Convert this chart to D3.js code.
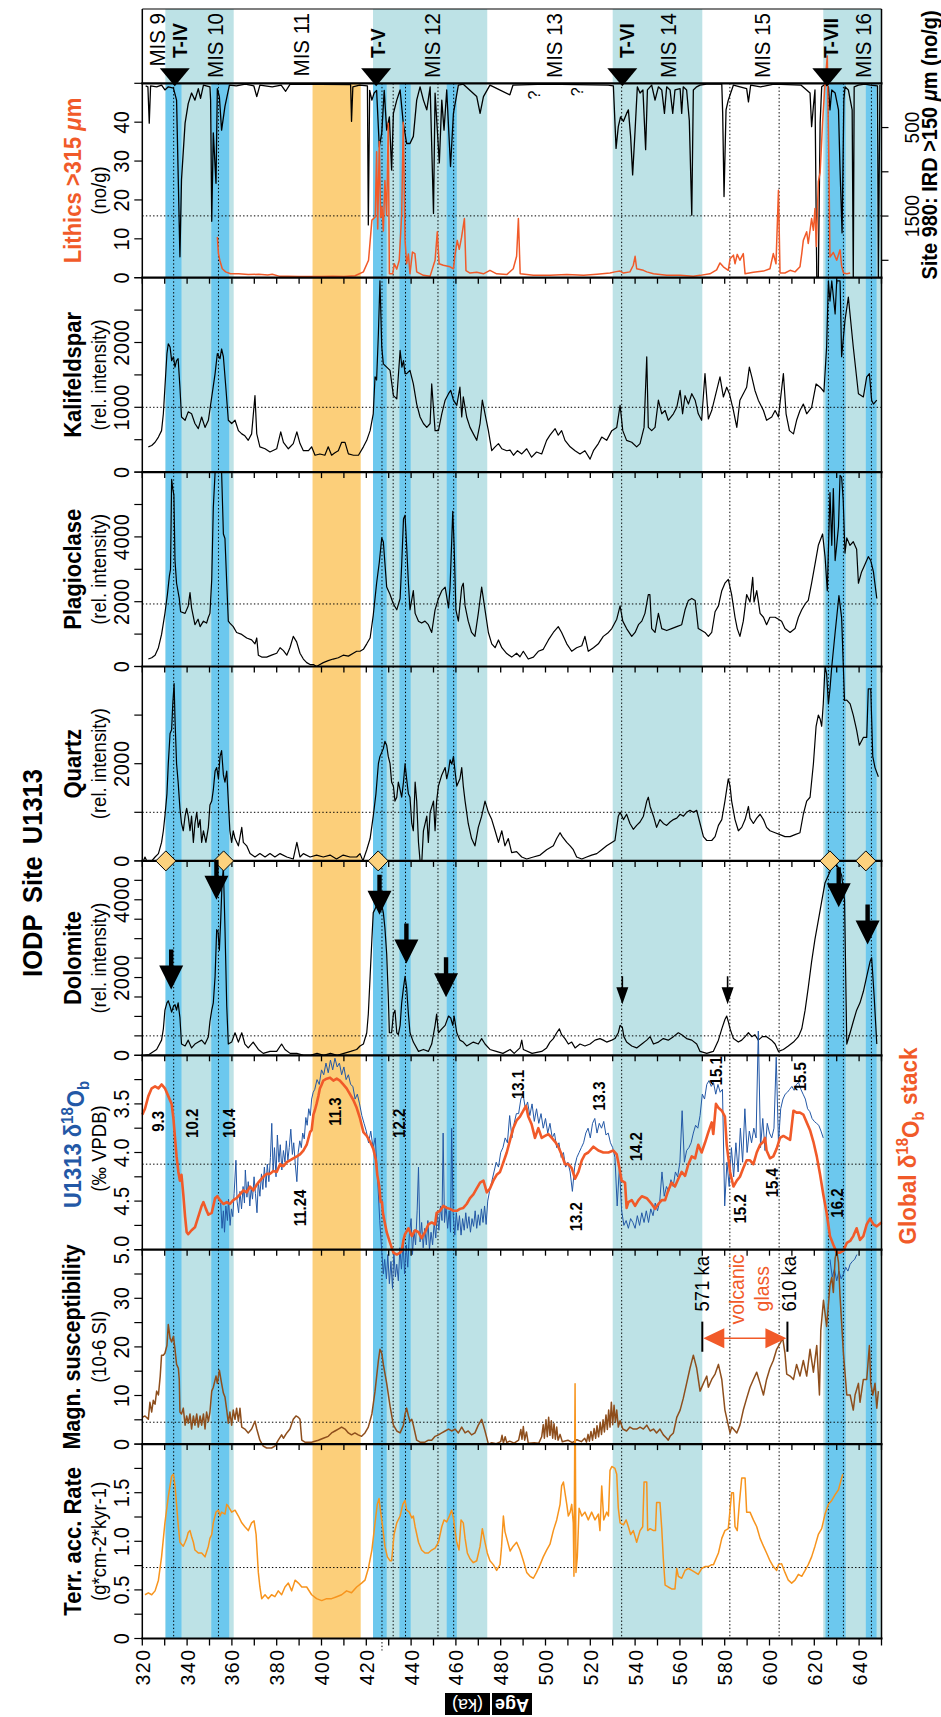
<!DOCTYPE html>
<html>
<head>
<meta charset="utf-8">
<script src="https://cdn.jsdelivr.net/npm/d3@7"></script>
<style>
  body { margin: 0; background: #fff; }
  text { font-family: "Liberation Sans", Arial, Helvetica, sans-serif; }
</style>
</head>
<body>
<svg id="chart" width="941" height="1717"></svg>
<script>
// ---------------- data ----------------
var ageTicks = d3.range(320, 651, 10);
var ageLabels = d3.range(320, 641, 20);

var lightBands = [[330.3, 360.8], [423, 474], [530, 570], [624, 650]];
var darkBands = [[330.4, 337.5], [350.8, 358.8], [423, 429.1], [434.8, 439.8], [455.9, 460.4], [625, 634], [643, 647.8]];
var orangeBands = [[396, 417.5]];
var dottedAges = [334, 354, 427, 432, 437.5, 452, 459, 534, 582.3, 604.3, 626.3, 633, 645.5];

var misLabels = [["MIS 9", 326.4], ["MIS 10", 352.5], ["MIS 11", 391], ["MIS 12", 449.5], ["MIS 13", 503.8],
                 ["MIS 14", 554.8], ["MIS 15", 596.5], ["MIS 16", 641.6]];
var termLabels = [["T-IV", 336.7], ["T-V", 425], ["T-VI", 536], ["T-VII", 627.4]];
var termMarks = [334.5, 424.4, 534.3, 625.8];

var diamonds = [330.5, 356.3, 425.3, 627, 643];
// [age, dolomite value at arrow tip, big?]
var dolArrows = [[332.9, 1690, 1], [353.1, 4000, 1], [425.9, 3615, 1], [437.9, 2360, 1], [455.6, 1490, 1],
                 [534.3, 1310, 0], [581.3, 1310, 0], [630.9, 3810, 1], [643.8, 2850, 1]];

var isoLabels = [["9.3", 327.2, 3.68], ["10.2", 342.1, 3.70], ["10.4", 358.7, 3.70], ["11.24", 390.4, 4.57],
                 ["11.3", 406.3, 3.58], ["12.2", 434.8, 3.70], ["13.1", 487.9, 3.30], ["13.2", 513.9, 4.66],
                 ["13.3", 523.9, 3.42], ["14.2", 540.4, 3.94], ["15.1", 576.1, 3.16], ["15.2", 586.8, 4.58],
                 ["15.4", 601, 4.31], ["15.5", 613.6, 3.22], ["16.2", 630.3, 4.52]];

var questionMarks = [[494.6, 47], [513.9, 47.8]];
var glassBars = [570, 608];
var glassRange = [19, 25.2];
var glassArrowLevel = 21.8;

var lithics = [[353.5,10.5],[354,6.2],[354.6,4.5],[355.7,2.3],[357.2,1.5],[359.4,1.0],[363,1.0],[367.3,0.8],[372,0.9],[376,0.7],[378,0.9],[381,0.4],[385,0.4],[390,0.3],[395,0.3],[400,0.3],[405,0.4],[410,0.3],[415,0.5],[418.7,1.5],[421,4.5],[422.5,14.8],[424,15.6],[424.6,32.4],[425.1,12.5],[425.8,35],[426.4,15.5],[427,18.2],[427.6,12],[428.3,25],[429.1,16],[429.8,39.7],[430.3,1.0],[431.8,1.0],[432.5,3.6],[433.6,2.2],[434.7,4.5],[435.8,16.3],[436.5,40],[437.3,9.6],[438,3.6],[438.8,6.1],[439.5,1.0],[440.6,6.6],[441.7,6.2],[442.5,1.5],[445.5,0.6],[448.5,0.4],[450.7,4.5],[451.7,11.8],[452.5,3.6],[454.4,3.2],[457.4,2.8],[458.9,2.3],[459.6,5.8],[460.6,9.6],[461.5,7.3],[462.5,10.3],[463.8,15.2],[464.5,1.8],[466.3,1.2],[469.3,1.4],[472.3,1.0],[475.2,1.9],[478.2,1.0],[482.7,0.8],[485.6,2.3],[487.1,5.5],[487.9,15.2],[488.7,1.0],[494.6,0.6],[502,0.6],[509.5,0.8],[517,0.6],[523,0.9],[528.8,1.2],[531,1.5],[533.3,1.7],[534.8,1.2],[537.7,1.5],[539.2,3.2],[540,5.5],[540.7,2.3],[543.7,1.9],[545.2,1.5],[548.2,1.0],[554.1,0.6],[560.1,0.6],[566,0.4],[569,0.6],[573.4,1.0],[576.4,2.0],[577.9,3.8],[579.4,2.8],[581.6,1.9],[582.4,4.9],[583.9,5.8],[584.6,3.6],[585.6,6.0],[586.8,4.5],[588.3,6.2],[589.1,1.0],[592.8,1.4],[597.3,1.7],[600.2,2.3],[601.7,6.2],[602.9,3.6],[604,22.5],[604.7,1.2],[606.9,1.2],[609.2,1.9],[611.4,1.5],[613.6,2.8],[614.4,6.2],[615.1,9.6],[616.6,11.8],[617.3,8.8],[618.8,15.2],[619.6,12.2],[620.3,17.8],[620.9,8],[621.8,24.7],[622.6,27],[623.7,40],[624.8,50],[625.8,57],[626.5,30],[627,5.3],[628.5,6.5],[630,4.5],[631.5,7.2],[632.2,3.0],[633,1.2],[634.5,1.0],[636,1.2]];

var ird980 = [[321.5,30],[322.5,40],[323.1,450],[323.7,30],[326.4,40],[328.6,20],[330.1,75],[331.6,40],[333.9,55],[335.3,190],[336.8,1960],[337.5,1090],[339.1,450],[340.5,230],[342,110],[343.5,190],[345,60],[346,170],[347.3,20],[350.2,40],[350.5,190],[351,1560],[351.7,560],[352.9,1130],[353.5,60],[354.4,150],[355.4,530],[356.9,260],[358.9,20],[362,30],[366,10],[369.8,30],[371.1,150],[372.5,20],[378,40],[382,20],[384,90],[386,10],[413,15],[413.4,430],[414,40],[417,20],[420.5,30],[420.9,1600],[421.5,80],[422.5,190],[423.5,110],[424.6,80],[425.8,720],[426.9,560],[428,80],[429.1,530],[430.3,380],[431.3,980],[432.1,340],[433.6,190],[435.1,75],[436.5,450],[438,680],[439.5,680],[441,600],[442.5,190],[444,40],[445.5,190],[447,300],[448.5,40],[450,1470],[450.7,110],[452.6,900],[453.7,190],[454.7,530],[455.9,75],[457.6,940],[458.9,340],[461.1,20],[463.3,10],[469.3,150],[470.8,340],[472.3,150],[475.2,20],[484.1,130],[485.5,20],[500,10],[528,20],[530.3,30],[531.5,735],[532.5,490],[533.5,380],[534.8,430],[536.2,340],[537,300],[538,600],[538.9,1035],[540,530],[541,40],[542.2,110],[543.5,75],[544.7,750],[545.5,75],[547.4,20],[548.9,190],[550.4,40],[551.9,75],[553.1,340],[554.1,40],[555.6,75],[556.8,340],[557.8,75],[560.1,60],[560.8,340],[561.5,40],[563,75],[564.2,420],[565.3,1490],[566,75],[567.5,40],[569,20],[572,10],[578.7,10],[579.1,340],[579.7,1280],[580.6,300],[581.6,190],[583.9,20],[589.8,60],[590.6,210],[591.6,20],[596,40],[602,10],[614,20],[618.1,110],[618.8,490],[619.6,260],[620.3,75],[621.1,2190],[621.8,2190],[622.6,450],[623.3,40],[624.8,10],[626.3,40],[627,300],[627.8,75],[629.3,110],[630.8,300],[631.5,980],[632.4,1690],[633.2,190],[633.7,40],[635.2,75],[636.9,300],[637.4,2190],[637.8,40],[639.7,20],[642.6,10],[645,20],[648.2,30],[648.6,2190],[649.3,20]];

var kalifeldspar = [[322.7,390],[324.2,410],[325.7,460],[327.2,540],[328.6,640],[329.4,900],[330.1,1310],[331,1830],[331.6,1980],[332.4,1930],[333.1,1720],[333.9,1780],[334.6,1620],[335.3,1720],[336,1750],[336.8,1310],[337.5,850],[339.1,800],[340.5,930],[342,900],[343.5,750],[345,670],[346.5,850],[348,690],[349.5,800],[351,1160],[352.5,1520],[353.5,1830],[354.7,1750],[355.4,1900],[356.2,1780],[357.4,1260],[358.4,800],[359.9,750],[361.4,800],[362.9,640],[364.4,590],[365.8,560],[367.3,490],[368.8,590],[370.3,1180],[371.1,590],[372.5,390],[374.8,360],[377,310],[380,360],[381.8,620],[383,460],[385.2,360],[387.4,440],[389,620],[390.4,440],[391.9,330],[394.2,330],[395.6,390],[397.1,260],[399.3,280],[401.5,260],[403,390],[404.5,260],[406,300],[407.5,330],[409,460],[410.5,460],[412,280],[414.3,260],[416.5,260],[418.7,390],[420.2,490],[421.7,640],[423.1,900],[423.9,1470],[424.6,1420],[425.4,2140],[426.1,2950],[426.9,1930],[427.6,1670],[429.1,1620],[430.6,1570],[432.1,1180],[433.6,1130],[435.1,1880],[435.9,1620],[436.6,1720],[437.3,1520],[438,1520],[439.5,1570],[441,1360],[442.5,1050],[444,850],[445.5,750],[447,690],[448.5,750],[449.2,1360],[450.7,640],[452.2,640],[453.7,900],[455.2,1110],[456.7,1210],[457.7,1260],[458.9,1110],[460.4,1030],[461.8,1310],[462.6,850],[463.3,1160],[464.8,850],[466.3,690],[467.8,590],[469.3,490],[470.8,750],[471.8,1110],[473,900],[474.5,640],[476,330],[477.5,390],[479,440],[480.5,360],[482.7,330],[484.2,340],[485.7,260],[487.5,330],[489.4,280],[491.6,360],[493.8,230],[496,310],[498.3,280],[500.5,490],[502,570],[504.3,670],[505.7,570],[507.2,640],[508.7,490],[511,390],[513.2,330],[515.4,280],[517.6,330],[519.9,200],[521.4,330],[523.6,440],[525.1,540],[527.3,490],[529.6,640],[531.8,690],[533.3,1030],[534.5,640],[536.2,490],[538.5,460],[540.7,390],[542.2,440],[544,690],[545.2,1780],[545.9,690],[547.4,640],[548.9,690],[550.4,1110],[551.9,900],[553.4,950],[554.8,800],[557.1,900],[558.6,1000],[560.1,1260],[561.2,900],[562.3,1180],[563.8,1050],[565.3,1210],[566.8,1110],[568.2,900],[569.7,800],[571.2,1520],[572.7,820],[574.2,950],[575.7,1160],[577.9,1470],[579.4,1160],[580.9,1310],[582.1,1210],[583.9,950],[585.4,690],[586.8,1110],[589.8,1310],[591,1620],[592.1,1470],[593.5,1260],[595,1110],[597.3,950],[598.7,800],[601,850],[602.5,950],[604,850],[606.2,1520],[607.4,900],[608.9,640],[610.7,590],[612.1,800],[613.6,950],[615.1,1050],[616.6,900],[618.8,1000],[620.8,1360],[622.6,1310],[624.3,1240],[625.5,1930],[626.3,2950],[627,2640],[627.8,2950],[629.3,2440],[630,2950],[631.5,2950],[632.2,1780],[633.7,2340],[635.2,2700],[637.4,1930],[639.7,1210],[641.9,1160],[643.4,1470],[644.6,1520],[645.6,1110],[646.4,1050],[647.9,1110]];

var plagioclase = [[322.7,230],[324.2,270],[325.7,350],[327.2,580],[328.6,990],[330.1,1640],[331.2,2220],[332.1,2800],[332.6,3000],[333.1,5780],[333.6,5490],[334.1,5300],[334.6,3270],[335.3,2570],[336.5,2100],[337.1,1690],[339.1,1640],[340.5,1870],[341.3,2280],[342,1810],[343.5,1290],[344.9,1460],[345.8,1230],[347.3,1400],[348.7,1340],[349.5,1520],[350.2,1640],[351,2690],[351.7,4910],[352.5,6000],[355.4,6000],[356.2,4090],[356.9,3950],[357.7,2570],[358.4,1400],[359.1,1340],[360.6,1230],[362.1,1050],[364.4,990],[366.6,880],[368.8,820],[370.3,700],[371.1,880],[371.8,350],[373.3,290],[375.5,290],[377.7,350],[380,410],[381.5,580],[383,490],[384.5,350],[385.9,580],[387.4,930],[388.9,760],[390.4,410],[391.9,230],[393.4,120],[394.9,60],[396.4,60],[397.8,0],[399.3,60],[400.8,120],[403,180],[405.2,230],[407.5,270],[409.7,350],[412,320],[414.2,410],[415.7,470],[417.2,470],[418.7,530],[420.2,700],[421.7,880],[423.1,1580],[424.6,2570],[425.8,3210],[426.9,3970],[427.3,3900],[427.6,3850],[429.1,2450],[430.6,2220],[432.1,1930],[433.6,1750],[435.1,2100],[435.8,3150],[436.6,4550],[437.3,4670],[438,3740],[438.8,2570],[439.5,1750],[441,2340],[441.8,1640],[443.3,1400],[444.7,1340],[446.2,1400],[447.7,1290],[449.2,1050],[450.7,1750],[452.2,2100],[453.7,2340],[455.2,2450],[456.7,1810],[457.4,2450],[458.6,4790],[459.2,3740],[460,1750],[461.1,1400],[462.6,2450],[463.3,2570],[464.1,1870],[465.5,1400],[467,1050],[468.5,930],[470,1640],[471.5,2450],[473,1750],[474.5,1050],[476,700],[477.5,580],[479,820],[480.5,580],[482.7,400],[484.9,290],[487.1,410],[488.6,300],[490.1,470],[492.3,230],[494.6,290],[496.8,470],[499,530],[501.3,820],[503.5,1050],[505.7,1230],[507.2,1050],[509.5,700],[511.7,470],[513.9,580],[516.2,640],[517.6,930],[519.1,470],[521.4,580],[523.6,700],[525.8,930],[528.1,1050],[529.6,1170],[531.8,1460],[533.3,1870],[534.5,1400],[536.2,1170],[538.5,930],[540,1050],[541.5,1290],[543,1400],[544.4,1640],[545.9,2220],[546.6,2220],[547.4,1170],[548.9,1050],[550.4,1640],[551.9,1170],[554.1,1110],[556.3,1170],[558.6,1230],[560.8,1290],[562.3,1750],[563.8,2040],[565.3,2100],[566.8,2040],[568.2,1170],[569.7,1110],[571.2,1050],[572.7,930],[574.2,1050],[575.7,1690],[577.2,1870],[578.7,2340],[580.1,2570],[581.6,2690],[583.1,2220],[584.6,1520],[585.6,1170],[586.8,930],[588.3,1400],[589.8,2220],[591.3,1990],[592.5,2750],[593.1,1990],[594.3,2340],[595.8,1640],[597.3,1520],[598.7,1290],[600.2,1520],[602.5,1520],[604,1460],[605.4,1400],[606.9,1170],[609.2,1050],[611.4,1170],[612.9,1520],[614.4,1750],[615.9,1930],[617.3,2040],[618.8,2570],[620.3,3150],[621.8,3740],[623.7,4090],[624.8,3390],[625.8,2340],[627,5370],[627.8,3740],[628.5,5490],[629.3,3270],[630,3740],[630.8,4320],[631.5,5900],[632.2,5840],[632.9,5140],[633.7,3500],[634.5,3970],[635.9,3740],[637.4,3850],[638.9,3620],[639.7,2570],[641.1,2920],[642.6,3150],[644.1,3390],[645.2,3270],[646.4,2920],[647.9,2100]];

var quartz = [[320.5,0],[321.2,80],[322,0],[324.2,0],[325.7,80],[327.2,150],[328.6,380],[329.4,620],[330.1,920],[331,1380],[331.6,2000],[332.4,2620],[333.1,2700],[333.6,3230],[334.2,3650],[334.6,2920],[335.3,2000],[336,1620],[336.8,1080],[337.5,770],[338.3,620],[339.1,920],[339.8,1080],[340.5,920],[341.3,620],[342,920],[342.8,380],[343.5,770],[344.3,1000],[345,690],[345.8,850],[346.5,380],[347.3,620],[348.4,380],[349.5,690],[350.2,1150],[351,1230],[351.7,1460],[352.5,1850],[353.2,1920],[354,1690],[354.7,2150],[355.4,2270],[356.2,1770],[356.9,1620],[357.7,1850],[358.4,1230],[359.1,620],[359.9,380],[360.6,620],[361.4,460],[362.9,310],[364.4,690],[365.1,380],[366.6,310],[368.1,150],[370.3,80],[372.5,150],[374.8,80],[377,150],[379.2,80],[381.5,150],[384.5,80],[387.4,40],[389,380],[390.4,80],[391.9,150],[394.9,80],[397.8,120],[400.8,80],[403.8,120],[406.7,40],[409.7,120],[412.7,80],[415.7,80],[417.2,150],[418.5,0],[420.2,230],[421.7,460],[423.1,920],[424.3,1380],[425.4,2000],[426.1,2150],[427.6,2310],[428.3,2460],[429.1,2380],[429.8,2150],[430.6,2000],[431.3,1620],[432.1,1540],[432.8,1230],[433.6,1310],[434.3,1620],[435.1,1460],[435.8,1310],[436.6,1620],[437.3,2000],[438,1690],[438.8,1380],[439.5,1310],[440.3,770],[441,620],[441.8,1620],[442.5,1230],[443.3,380],[444,0],[444.8,0],[445.5,620],[447,920],[447.7,380],[448.5,1000],[450,1230],[450.7,620],[451.4,1230],[452.2,1540],[453.7,1770],[455.2,1920],[455.9,1690],[456.7,1850],[457.4,2080],[458.2,1990],[458.9,2150],[459.6,1850],[460.4,1540],[461.8,1690],[462.6,1920],[463.3,1540],[464.1,1230],[465.5,770],[467,460],[468.5,310],[470,690],[471.5,920],[473,1230],[474.5,1000],[476,850],[477.5,620],[479,380],[480.5,620],[481.9,310],[483.4,460],[484.9,170],[487.1,190],[489.4,80],[491.6,40],[494.6,80],[497.6,120],[500.5,230],[503.5,310],[505,460],[506.5,580],[507.5,500],[509.5,380],[511,310],[512.4,230],[513.9,80],[516.2,40],[518.4,80],[520.6,120],[522.9,150],[525.1,230],[527.3,310],[529.6,380],[531,420],[532.5,920],[533.3,1000],[534.8,850],[536.2,960],[537.7,770],[539.2,650],[540.7,730],[542.2,800],[543.7,920],[545.2,1230],[545.9,1310],[546.7,1120],[548.2,920],[549.6,690],[551.1,850],[552.6,770],[554.1,730],[555.6,800],[557.1,850],[558.6,880],[560.1,960],[561.6,920],[563,1000],[564.5,1040],[566,1000],[567.5,1040],[569,770],[570.5,500],[572,420],[574.2,420],[575.7,500],[577.2,730],[578.7,850],[580.1,1230],[581.6,1690],[582.4,1540],[583.1,1230],[584.6,850],[586.1,620],[587.6,690],[589.1,850],[590.6,1120],[591.3,880],[592.8,770],[594.3,880],[595.8,960],[597.3,850],[598.7,690],[600.2,620],[602.5,580],[604.7,540],[606.9,500],[609.2,500],[611.4,540],[613.6,580],[615.1,960],[616.6,1230],[618.1,1310],[619.6,2000],[620.8,2770],[621.8,3000],[622.6,2920],[623.3,2770],[624,3230],[624.8,4000],[625.5,3850],[626.3,3230],[627,3540],[627.8,4000],[629.3,4700],[631,5460],[632.2,5000],[633.5,3300],[634.5,3310],[636,3230],[637.4,3000],[638.9,2690],[640.1,2380],[641.9,2540],[643.4,2540],[644.1,3540],[645.2,3540],[646.1,2150],[647.1,1920],[648.6,1730]];

var dolomite = [[321,0],[323,20],[326.4,150],[328.6,390],[329.4,680],[330.1,1160],[331,1350],[331.6,1400],[332.4,1260],[333.1,1110],[333.9,1260],[334.6,1300],[335.3,1160],[336,1350],[336.8,970],[337.5,290],[339.1,240],[340.5,390],[342,190],[343.5,290],[345,340],[346.5,390],[348,290],[349.5,480],[350.2,870],[351,1160],[351.7,1350],[352.5,2030],[353.2,3230],[353.8,3180],[354.4,2700],[355,3470],[355.6,4440],[356.2,4830],[356.9,3280],[357.7,1260],[358.4,290],[359.9,340],[361.4,580],[362.9,340],[364.4,580],[365.8,290],[367.3,190],[369.5,340],[371.8,150],[374,50],[377,100],[380,100],[382.2,290],[383.7,150],[386,50],[389,50],[392,0],[395,0],[398,50],[401,0],[404,50],[407,0],[410,50],[413,100],[415.7,150],[417.2,240],[418.7,290],[420.2,580],[420.9,1060],[421.7,2030],[422.5,2990],[423.1,3670],[423.9,3760],[424.6,3860],[425.4,3960],[426.1,4050],[426.9,3860],[427.6,3670],[428.3,3280],[429.1,2610],[429.8,1540],[430.3,580],[431.3,580],[432.1,1060],[432.8,1160],[433.6,580],[434.3,530],[435.1,770],[435.8,1350],[436.6,1740],[437.3,2030],[438,1740],[438.8,1060],[439.5,580],[441,340],[443.3,100],[445.5,150],[447.7,100],[449.2,290],[450.7,770],[451.4,1060],[452.2,580],[453.7,680],[455.2,770],[456.7,1010],[457.7,960],[458.6,770],[459.2,1010],[460.4,580],[461.8,390],[463.3,340],[464.8,240],[467.8,340],[470,290],[471.5,430],[473,290],[475.2,150],[478,100],[481,50],[484.2,150],[486,50],[488.6,190],[489.4,390],[490.1,150],[494,50],[498.3,100],[500.5,190],[502,340],[503.5,430],[505,580],[506.2,680],[507.2,530],[508.7,430],[510.2,290],[511.7,340],[513.2,190],[515.4,290],[517.6,240],[519.9,290],[522.1,390],[524.3,430],[525.8,390],[527.3,340],[529.6,390],[531,430],[532.5,580],[533.3,770],[534.3,720],[535,480],[536.2,340],[538.5,240],[540.7,190],[543,290],[545.2,390],[546.7,480],[548.2,290],[550.4,340],[552.6,430],[554.8,390],[557.1,480],[559.3,580],[560.8,530],[563,430],[565.3,390],[567.5,290],[569,100],[572,50],[574.9,100],[577.2,390],[578.7,680],[580.1,920],[580.9,1010],[581.6,870],[582.4,680],[583.9,430],[586.1,340],[587.6,390],[589.1,480],[590.6,580],[592.1,480],[593.5,530],[595,390],[596.8,480],[598.7,480],[600.9,390],[602.5,290],[604,100],[606.2,150],[608.4,240],[610.7,340],[612.9,480],[614.4,680],[615.9,1160],[617.3,1740],[618.8,2410],[620.3,2990],[621.8,3470],[623.3,3960],[624.8,4440],[626.3,4630],[627.8,4830],[629.3,4920],[630.8,4830],[632.2,4630],[633.5,4000],[634.5,290],[636,580],[637.4,870],[638.9,1160],[640.4,1350],[641.9,1640],[643.4,2030],[644.9,2410],[645.6,2510],[646.7,1540],[647.9,290]];

var u1313 = [[355,4.52],[355.6,4.78],[356.2,4.60],[356.7,4.82],[357.3,4.55],[358,4.70],[358.5,4.48],[359.2,4.75],[359.8,4.58],[360.4,4.66],[361,4.42],[361.8,4.08],[362.3,4.50],[363,4.62],[363.6,4.40],[364.3,4.58],[365,4.35],[365.6,4.52],[366,4.18],[366.7,4.46],[367.3,4.30],[368,4.55],[368.6,4.36],[369.2,4.48],[369.9,4.25],[370.5,4.42],[371.2,4.62],[371.8,4.30],[372.5,4.45],[373.2,4.22],[373.8,4.38],[374.5,4.15],[375.2,4.36],[375.8,4.12],[376.5,4.30],[377.2,4.05],[377.8,3.70],[378.4,4.20],[379,3.95],[379.7,4.25],[380.3,3.82],[381,4.10],[381.6,3.92],[382.3,4.18],[383,3.98],[383.7,4.10],[384.3,3.88],[385,4.08],[385.6,3.95],[386.3,3.76],[387,4.02],[387.6,3.90],[388.3,4.12],[389,4.30],[389.6,4.00],[390.3,3.88],[391,3.95],[391.6,3.80],[392.3,3.86],[393,3.64],[393.6,3.72],[394.3,3.55],[395,3.62],[395.6,3.45],[396.3,3.38],[397,3.35],[398,3.25],[399,3.30],[400,3.15],[401,3.20],[402,3.08],[403,3.18],[404,3.05],[405,3.15],[406,3.03],[407,3.12],[408,3.08],[409,3.20],[410,3.12],[411,3.25],[412,3.20],[413,3.30],[414,3.32],[415,3.45],[416,3.40],[417,3.50],[418,3.62],[419,3.70],[420,3.78],[421,3.90],[422,3.78],[423,3.95],[424,3.85],[425,4.25],[426,4.70],[427,5.05],[427.6,5.25],[428.2,5.10],[429,5.30],[429.6,5.05],[430.3,5.35],[431,5.12],[431.7,5.40],[432.3,5.02],[433,5.28],[433.6,5.15],[434.3,5.32],[435,4.98],[435.7,5.20],[436.4,4.92],[437.1,5.25],[437.8,4.95],[438.5,5.18],[439.2,4.85],[440,4.68],[440.6,5.05],[441.3,4.80],[442,4.95],[442.7,4.60],[443.3,4.15],[444,4.92],[444.7,4.72],[445.4,4.98],[446.1,4.78],[446.8,4.95],[447.5,4.70],[448.2,5.00],[448.9,4.82],[449.6,4.95],[450.3,4.72],[451,4.88],[451.7,4.62],[452.4,4.80],[453.1,4.55],[453.8,4.70],[454.3,3.80],[454.9,4.72],[455.6,4.55],[456.3,4.78],[457,4.60],[457.6,4.82],[458.1,3.75],[458.8,4.65],[459.5,4.85],[460.2,4.62],[460.9,4.80],[461.6,4.65],[462.3,4.85],[463,4.68],[463.7,4.80],[464.4,4.62],[465.1,4.78],[465.8,4.66],[466.5,4.82],[467.2,4.68],[467.9,4.76],[468.6,4.60],[469.3,4.78],[470,4.64],[470.7,4.75],[471.4,4.58],[472.1,4.72],[472.8,4.55],[473.5,4.74],[474.2,4.50],[475,4.40],[476,4.30],[477,4.20],[478,4.10],[479,4.15],[480,4.00],[481,3.95],[482,3.85],[483,3.90],[484,3.62],[485,3.85],[486,3.70],[487,3.60],[488,3.60],[489,3.45],[490,3.40],[491,3.55],[492,3.48],[493,3.62],[494,3.50],[495,3.68],[496,3.55],[497,3.70],[498,3.60],[499,3.75],[500,3.65],[501,3.80],[502,3.70],[503,3.85],[504,3.80],[505,3.95],[506,3.90],[507,4.05],[508,4.00],[509,4.15],[510,4.10],[511,4.20],[512,4.40],[513,4.15],[514,4.05],[515,4.00],[516,3.95],[517,3.90],[518,3.80],[519,3.75],[520,3.85],[521,3.70],[522,3.65],[523,3.80],[524,3.70],[525,3.75],[526,3.68],[527,3.82],[528,3.80],[529,3.90],[530,3.95],[531,4.05],[532,4.55],[533,4.15],[534,4.60],[535,4.75],[536,4.70],[537,4.78],[538,4.68],[539,4.72],[540,4.78],[541,4.65],[542,4.75],[543,4.62],[544,4.72],[545,4.60],[546,4.72],[547,4.58],[548,4.65],[549,4.52],[550,4.60],[551,4.50],[552,4.20],[553,4.45],[554,4.35],[555,4.40],[556,4.28],[557,4.35],[558,4.20],[559,4.25],[560,4.10],[561,3.57],[562,4.10],[563,3.98],[564,3.95],[565,3.90],[566,3.80],[567,3.72],[568,3.75],[569,3.62],[570,3.40],[571,3.45],[572,3.30],[573,3.26],[574,3.32],[575,3.28],[576,3.40],[577,3.30],[578,3.38],[579,3.35],[580,4.55],[581,4.10],[582,4.35],[583,3.95],[584,4.25],[585,3.90],[586,4.20],[587,3.75],[588,4.10],[589,3.55],[590,4.00],[591,3.78],[592,3.90],[593,3.75],[594,3.85],[595,2.75],[596,3.95],[597,3.65],[598,3.98],[599,3.70],[600,3.80],[601,3.85],[602,3.75],[603,3.02],[604,3.90],[605,3.55],[606,3.45],[607,3.40],[608,3.38],[609,3.35],[610,3.32],[611,3.36],[612,3.30],[613,3.28],[614,3.35],[615,3.40],[616,3.45],[617,3.55],[618,3.58],[619,3.65],[620,3.68],[621,3.70],[622,3.72],[623,3.78],[624,3.85],[625,null],[627,5.10],[628,5.28],[629,5.20],[630,5.32],[631,5.22],[632,5.30],[633,5.25],[634,5.18],[635,5.22],[636,5.15],[637,5.12],[638,5.10],[639,5.05]];

var globalStack = [[320,3.61],[321.2,3.55],[322.7,3.42],[324.2,3.34],[325.7,3.32],[327.2,3.34],[328.6,3.30],[330.1,3.34],[331.6,3.42],[333.1,3.50],[333.9,3.65],[334.6,3.85],[335.3,4.04],[336.1,4.20],[336.8,4.29],[337.5,4.23],[338.3,4.43],[339.1,4.66],[339.8,4.82],[340.5,4.84],[342,4.80],[343.5,4.77],[345,4.66],[346.5,4.55],[347.3,4.51],[348.4,4.58],[349.5,4.64],[351,4.62],[352.5,4.47],[353.5,4.45],[354.7,4.49],[356.2,4.53],[357.7,4.51],[359.1,4.53],[360.6,4.49],[362.1,4.47],[363.6,4.43],[365.1,4.39],[366.6,4.41],[368.1,4.35],[369.6,4.39],[371.1,4.33],[372.5,4.29],[374,4.25],[375.5,4.22],[377,4.22],[378.5,4.19],[380,4.20],[381.5,4.12],[383,4.14],[384.5,4.10],[385.9,4.08],[387.4,4.06],[389,4.04],[390.4,4.02],[391.9,3.98],[393.4,3.92],[394.9,3.79],[395.6,3.77],[396.4,3.61],[397.1,3.56],[397.8,3.50],[398.6,3.42],[399.3,3.34],[400.1,3.30],[400.8,3.26],[402.3,3.24],[403.8,3.23],[405.3,3.26],[406.8,3.24],[408.2,3.26],[409.7,3.30],[411.2,3.34],[412.7,3.40],[414.2,3.46],[415.7,3.54],[417.2,3.65],[418.7,3.79],[420.2,3.83],[421.7,3.89],[423.1,3.96],[424.3,4.08],[424.9,4.23],[425.8,4.35],[426.4,4.51],[427,4.51],[427.4,4.62],[429.1,4.82],[430.6,4.93],[432.1,5.03],[433.6,5.05],[435.1,5.03],[435.8,5.01],[436.6,4.90],[437.3,4.84],[438.8,4.78],[440.3,4.86],[441.8,4.80],[443.3,4.82],[444.7,4.88],[446.2,4.82],[447.7,4.74],[449.2,4.72],[450.7,4.74],[451.4,4.62],[452.9,4.60],[454.4,4.55],[455.9,4.57],[457.4,4.58],[458.9,4.60],[460.4,4.60],[461.8,4.58],[463.3,4.57],[464.8,4.53],[466.3,4.47],[467.8,4.43],[469.3,4.37],[470.8,4.31],[472.3,4.29],[473.8,4.41],[475.2,4.37],[476.7,4.29],[478.2,4.23],[479.7,4.20],[481.2,4.10],[482.7,4.00],[484.2,3.87],[485.6,3.75],[487.1,3.67],[488.6,3.63],[490.1,3.57],[491.3,3.52],[492.3,3.63],[493.8,3.71],[495.3,3.85],[496.8,3.75],[498.3,3.85],[499.8,3.83],[501.3,3.81],[502.8,3.85],[504.3,3.89],[505.7,3.94],[507.2,4.02],[508.7,4.12],[510.2,4.12],[511.7,4.16],[513.2,4.27],[514.7,4.20],[516.2,4.08],[517.6,4.02],[519.1,4.00],[521.4,3.94],[523.6,3.98],[525.8,4.00],[528.1,4.00],[530.3,3.98],[531.8,4.02],[533,4.16],[534,4.29],[535.5,4.31],[536.2,4.57],[537,4.51],[538.5,4.49],[540,4.55],[541.5,4.49],[543,4.45],[545.2,4.47],[547.4,4.53],[548.9,4.58],[550.4,4.53],[551.9,4.49],[553.4,4.49],[554.8,4.39],[556.3,4.31],[557.8,4.35],[559.3,4.27],[560.8,4.20],[562.3,4.24],[563.8,4.12],[565.3,4.04],[566.8,4.06],[568.2,3.92],[569.7,4.00],[571.2,3.90],[572.7,3.79],[574.2,3.69],[574.9,3.81],[576.1,3.50],[577.2,3.54],[578.7,3.57],[580.1,3.63],[580.9,3.92],[582.4,4.20],[583.9,4.35],[585.4,4.29],[586.8,4.25],[588.3,4.16],[589.8,4.08],[591.3,4.08],[592.8,4.12],[594.3,4.00],[595.8,3.92],[597.3,3.89],[598,3.85],[598.7,3.98],[600.2,4.06],[601.7,4.04],[603.2,3.96],[604.7,3.85],[606.2,3.83],[607.7,3.85],[609.2,3.87],[610.7,3.57],[612.1,3.59],[613.6,3.59],[615.1,3.61],[616.6,3.69],[618.1,3.77],[619.6,3.89],[621.1,4.04],[622.6,4.23],[624,4.43],[625.5,4.62],[627,4.86],[628.5,4.95],[630,5.03],[631.5,5.03],[633,5.01],[634.5,4.93],[636,4.91],[637.4,4.86],[638.9,4.78],[640.4,4.90],[641.9,4.86],[643.4,4.74],[644.9,4.68],[646.4,4.74],[647.9,4.76],[650,4.72]];

var magSus = [[320,5.5],[321.2,5.8],[322.7,5.1],[323.4,8.6],[324.2,6.6],[324.9,9.0],[325.7,8.2],[326.4,10.9],[327.2,10.1],[328,14],[328.6,18.3],[329.4,18.3],[330.1,18.7],[331,20.3],[331.6,24.6],[332.4,21.8],[333.1,21.0],[333.9,22.2],[334.6,19.5],[335.3,16.4],[336.1,15.6],[336.5,13.3],[336.8,6.6],[337.5,6.2],[338.3,7.4],[339.1,3.9],[339.8,5.8],[340.5,4.3],[341.3,6.2],[342,3.1],[342.8,5.8],[343.5,3.9],[344.3,6.2],[345,3.5],[345.8,5.8],[346.5,3.9],[347.3,6.2],[348,3.1],[348.7,6.6],[349.5,4.7],[350.2,6.6],[351,10.9],[351.7,11.7],[352.9,14.0],[353.5,12.5],[354.4,15.2],[355.4,12.5],[356.2,10.5],[356.9,9.7],[357.7,7.0],[358.4,4.3],[359.1,6.6],[359.9,3.9],[360.6,7.0],[361.4,5.1],[362.1,7.4],[362.9,4.7],[363.6,7.4],[364.4,3.5],[365.8,3.1],[367.3,2.3],[368.8,3.1],[370.3,4.7],[371.1,3.1],[372.5,0.8],[374,-0.4],[375.5,-0.8],[377.7,-0.8],[379.2,-0.4],[380.7,0.8],[382.2,1.9],[383,1.2],[384.5,2.3],[385.9,3.1],[387.4,5.1],[388.6,5.8],[389.7,5.5],[390.4,5.1],[391.2,0.8],[392.6,0.4],[395.6,0.4],[398.6,0.8],[400.8,1.2],[403,1.6],[404.5,2.3],[406,2.7],[407.5,3.1],[409,3.5],[410.5,3.1],[412,2.3],[413.4,1.9],[414.9,2.3],[416.4,1.9],[417.9,1.6],[419.4,2.3],[420.9,3.5],[422.5,6.2],[423.9,10.9],[425.4,17.2],[426.1,19.5],[426.9,18.7],[427.6,16.4],[429.1,12.5],[430.6,7.8],[432.1,3.9],[433.6,2.7],[435.1,2.3],[436.6,3.9],[437.3,6.2],[438,7.4],[438.8,5.8],[439.5,4.7],[440.3,5.1],[441,3.9],[442.5,0.8],[444,0.4],[446.2,0.4],[447.7,0.8],[449.2,0.8],[450.7,1.6],[452.2,1.9],[453.7,2.3],[455.2,2.7],[456.7,3.1],[458.1,2.7],[459.6,3.1],[461.1,2.3],[462.6,3.5],[464.1,2.3],[465.5,2.7],[467,1.9],[468.5,2.3],[470,3.9],[471.5,5.1],[473,2.7],[474.5,0],[476,0.3],[478,0.1],[480,0.5],[480.6,1.8],[481.2,0.2],[482,1.5],[482.7,0.3],[484,0.6],[486,0.2],[488,0.8],[489,3.0],[489.5,1.0],[490.1,3.6],[490.7,0.8],[491.5,2.5],[492.3,0.2],[495,0.3],[497,0.2],[498.3,1.5],[499,4.0],[499.5,1.2],[500.2,5.0],[500.8,1.5],[501.4,5.5],[502,1.8],[502.6,4.8],[503.2,1.2],[503.8,4.2],[504.4,1.0],[505,3.5],[505.6,0.8],[506.5,2.0],[507.5,0.5],[510,0.8],[512,0.3],[514,0.9],[516,0.5],[517.5,1.2],[518.3,0.4],[519,2.0],[519.6,0.6],[520.3,2.6],[521,0.8],[521.7,3.2],[522.4,1.2],[523,3.8],[523.7,1.5],[524.4,4.4],[525,2.0],[525.7,5.0],[526.3,2.5],[527,6.0],[527.6,3.0],[528.2,7.0],[528.8,3.5],[529.4,8.6],[530,4.0],[530.6,8.0],[531.2,4.5],[531.8,7.0],[532.5,3.5],[533.3,4.8],[534.5,3.1],[536.2,2.7],[537.7,3.5],[539.2,3.1],[540.7,3.1],[542.2,3.5],[543.7,3.1],[545.2,3.9],[546.7,2.7],[548.2,3.1],[549.6,2.3],[551.1,3.1],[552.6,1.9],[554.1,1.2],[554.8,0.8],[555.6,1.6],[557.1,2.3],[558.6,5.5],[560.1,7.0],[561.5,9.4],[563,12.5],[564.5,15.6],[566,18.3],[567.5,15.6],[569,10.9],[570.5,12.5],[572,14.0],[572.7,11.7],[574.2,13.3],[575.7,14.4],[577.2,16.4],[578.7,13.3],[580.1,7.0],[581.6,3.9],[582.4,2.3],[583.1,3.5],[583.9,3.1],[585.4,2.3],[586.8,3.9],[588.3,7.0],[589.8,9.4],[591.3,11.7],[592.8,13.3],[594.3,14.8],[595.8,12.5],[597.3,10.1],[598.7,13.3],[600.2,15.6],[601.7,17.2],[603.2,19.5],[604.7,20.7],[605.9,21.8],[606.9,18.7],[607.7,14.4],[609.2,14.0],[610.7,13.3],[612.1,16.4],[613.6,14.0],[615.1,17.2],[616.6,14.0],[618.1,19.5],[619.6,14.8],[621.1,20.3],[622.3,10.1],[622.9,23.4],[624.1,29.6],[625.5,24.2],[627,32.7],[627.8,34.3],[628.5,31.2],[629.3,38.2],[630,39.8],[630.8,37.4],[631.5,30.4],[633,18.7],[634.5,10.1],[636,10.1],[637.4,7.0],[638.2,10.1],[639.7,12.5],[640.4,8.6],[641.9,13.3],[643.4,13.3],[644.6,20.3],[645.2,12.5],[646.1,10.1],[647.1,12.5],[647.9,7.4],[648.6,10.9]];

var terrRate = [[321.2,0.45],[322.7,0.47],[324.2,0.45],[325.7,0.49],[327.2,0.60],[328.6,0.84],[330.1,1.19],[331.6,1.46],[333.1,1.67],[333.9,1.69],[334.6,1.57],[335.3,1.38],[336.1,1.15],[336.8,0.99],[337.5,0.97],[338.3,0.95],[339.1,0.99],[339.8,1.03],[340.5,1.09],[341.3,1.11],[342,1.05],[342.8,0.99],[343.5,0.91],[345,0.88],[346.5,0.88],[348,0.84],[349.5,0.95],[350.2,1.03],[351,1.07],[351.7,1.19],[352.9,1.30],[354,1.32],[354.7,1.26],[355.4,1.30],[356.9,1.28],[357.7,1.38],[358.4,1.36],[359.9,1.30],[361.4,1.32],[362.9,1.26],[364.4,1.19],[365.8,1.15],[367.3,1.11],[368.8,1.19],[369.9,1.21],[370.8,1.07],[371.8,0.68],[372.5,0.53],[373.3,0.41],[374.8,0.45],[376.2,0.41],[377.7,0.45],[379.2,0.43],[380.7,0.49],[382.2,0.45],[383.7,0.53],[385.2,0.57],[386.7,0.49],[388.2,0.60],[389.7,0.57],[391.2,0.53],[393.4,0.53],[395.6,0.45],[397.8,0.41],[400.1,0.39],[402.3,0.41],[404.5,0.41],[406.8,0.43],[409,0.45],[411.2,0.49],[413.4,0.47],[415.7,0.53],[417.9,0.57],[419.4,0.60],[420.9,0.72],[422.5,0.91],[423.9,1.19],[424.9,1.38],[425.7,1.44],[426.4,1.30],[427.3,1.15],[428.3,0.95],[429.4,0.84],[430.6,0.80],[431.3,0.80],[432.4,1.07],[433.6,1.19],[435.1,1.26],[436.3,1.38],[437.3,1.42],[438,1.32],[439.2,1.30],[440.3,1.24],[441,1.26],[441.8,1.15],[443.3,0.99],[444.7,0.91],[446.2,0.88],[447.7,0.88],[449.2,0.91],[450.7,0.93],[452.2,0.99],[453.7,1.15],[454.7,1.22],[455.9,1.20],[457.1,1.26],[458.1,1.32],[458.9,1.24],[459.6,1.11],[460.4,0.99],[461.4,0.91],[462.3,1.22],[463.3,1.19],[464.1,1.03],[465.1,0.88],[466.3,0.82],[467.8,0.78],[469.3,0.80],[470.8,0.95],[471.8,1.13],[473,0.99],[474,0.88],[475.2,0.80],[476.7,0.76],[478.2,0.70],[479.7,0.76],[480.4,0.95],[481.2,1.26],[481.9,1.10],[482.7,1.03],[484.2,0.90],[485.6,0.95],[487.1,0.99],[488.6,0.91],[490.1,0.80],[491.6,0.68],[493.1,0.64],[494.6,0.62],[496,0.68],[497.6,0.76],[499,0.84],[500.5,0.91],[502,0.97],[503.5,1.11],[505,1.22],[506.5,1.38],[507.2,1.57],[508,1.61],[508.7,1.50],[509.5,1.38],[510.2,1.26],[511,1.30],[511.7,1.38],[512.4,1.19],[512.7,0.64],[513.2,2.62],[513.6,0.68],[514.2,0.84],[515,1.34],[516.2,1.26],[517.6,1.30],[519.1,1.22],[520.6,1.30],[522.1,1.22],[523.6,1.28],[524.3,1.11],[525.1,1.57],[526,1.22],[527.3,1.30],[528.1,1.26],[528.8,1.73],[529.6,1.77],[531,1.75],[531.8,1.69],[532.5,1.34],[533.3,1.19],[534.8,1.17],[536,1.22],[537,1.15],[538,1.07],[539.2,1.11],[540.7,0.99],[542.2,1.11],[543.4,1.15],[544,1.61],[545.2,1.61],[545.6,1.11],[546.7,1.13],[548.2,1.11],[549.1,1.11],[549.6,1.40],[551.1,1.40],[551.9,1.13],[552.6,0.82],[553.4,0.55],[554.8,0.53],[556.3,0.51],[557.8,0.51],[558.6,0.72],[559.3,0.64],[560.8,0.62],[562.3,0.70],[563.8,0.72],[565.3,0.70],[566.8,0.68],[568.2,0.66],[569.7,0.72],[571.2,0.74],[572.7,0.74],[574.2,0.76],[575,0.76],[577.2,0.88],[578.7,1.03],[580.1,1.11],[581.6,1.13],[583.1,1.50],[583.9,1.50],[584.6,1.15],[585.6,1.11],[586.5,1.38],[587.6,1.65],[589.1,1.65],[589.8,1.30],[591.3,1.30],[592.8,1.22],[594.3,1.15],[595.8,1.03],[597.3,0.95],[598.7,0.88],[600.2,0.80],[601.7,0.74],[603.2,0.70],[604,0.76],[605.4,0.77],[606.9,0.68],[608.4,0.60],[609.9,0.57],[611.4,0.60],[612.9,0.66],[614.4,0.64],[615.9,0.70],[617.3,0.76],[618.8,0.84],[620.3,0.95],[621.8,1.07],[623.3,1.13],[624.8,1.28],[626.3,1.38],[627.8,1.42],[629.3,1.48],[630.8,1.53],[632.2,1.65],[632.7,1.69]];

// ---------------- layout ----------------
var X0 = 142.3, X1 = 881.5;
var headerTop = 9, panelTop = 83.3, rowH = 194.4;
var titleX = 72, subX = 98.5, tickLabX = 121.5;
var glyphStretch = 1.08;

var panels = [
  {key: "lith", domain: [0, 50],   step: 10,   labels: [0, 10, 20, 30, 40], ref: 15.9},
  {key: "kali", domain: [0, 3000], step: 500,  labels: [0, 1000, 2000],     ref: 1000},
  {key: "plag", domain: [0, 6000], step: 1000, labels: [0, 2000, 4000],     ref: 1930},
  {key: "qtz",  domain: [0, 4000], step: 1000, labels: [0, 2000],           ref: 1000},
  {key: "dol",  domain: [0, 5000], step: 500,  labels: [0, 2000, 4000],     ref: 500},
  {key: "d18",  domain: [5, 3],    step: 0.25, labels: [3.5, 4, 4.5, 5],    ref: 4.12, dec: 1},
  {key: "mag",  domain: [0, 40],   step: 5,    labels: [0, 10, 20, 30],     ref: 4.5},
  {key: "terr", domain: [0, 2],    step: 0.25, labels: [0, 0.5, 1, 1.5],    ref: 0.73, dec: 1}
];
var P = {};
panels.forEach(function(p, i) {
  p.top = panelTop + i * rowH;
  p.bot = p.top + rowH;
  p.y = d3.scaleLinear().domain(p.domain).range([p.bot, p.top]);
  P[p.key] = p;
});
var bottomY = panelTop + panels.length * rowH;

var x = d3.scaleLinear().domain([320, 650]).range([X0, X1]);
var yIrd = d3.scaleLinear().domain([0, 2000]).range([panelTop, panelTop + 177]);

var C = {
  light: "#bde2e6", dark: "#6cc8ee", orange: "#fccf7a",
  red: "#f15a29", blue: "#2358a6", brown: "#8e4e1c", terr: "#f7941d", diamond: "#fcd27e"
};

var svg = d3.select("#chart");

// ---------------- backgrounds ----------------
svg.append("rect").attr("x", X0).attr("y", headerTop).attr("width", X1 - X0).attr("height", panelTop - headerTop).attr("fill", "#fff");

var bg = svg.append("g");
bg.selectAll(".hdr").data(lightBands).enter().append("rect")
  .attr("x", function(d) { return x(d[0]); }).attr("width", function(d) { return x(d[1]) - x(d[0]); })
  .attr("y", headerTop).attr("height", panelTop - headerTop).attr("fill", C.light);
bg.selectAll(".lb").data(lightBands).enter().append("rect")
  .attr("x", function(d) { return x(d[0]); }).attr("width", function(d) { return x(d[1]) - x(d[0]); })
  .attr("y", panelTop).attr("height", bottomY - panelTop).attr("fill", C.light);
bg.selectAll(".db").data(darkBands).enter().append("rect")
  .attr("x", function(d) { return x(d[0]); }).attr("width", function(d) { return x(d[1]) - x(d[0]); })
  .attr("y", panelTop).attr("height", bottomY - panelTop).attr("fill", C.dark);
bg.selectAll(".ob").data(orangeBands).enter().append("rect")
  .attr("x", function(d) { return x(d[0]); }).attr("width", function(d) { return x(d[1]) - x(d[0]); })
  .attr("y", panelTop).attr("height", bottomY - panelTop).attr("fill", C.orange);

// vertical dotted lines
svg.append("g").selectAll("line").data(dottedAges).enter().append("line")
  .attr("x1", function(d) { return x(d); }).attr("x2", function(d) { return x(d); })
  .attr("y1", panelTop).attr("y2", function(d) { return d === 427 ? bottomY + 12 : bottomY; })
  .attr("stroke", "#000").attr("stroke-width", 1).attr("stroke-dasharray", "1.4,2.2");

// horizontal dotted reference lines
svg.append("g").selectAll("line").data(panels).enter().append("line")
  .attr("x1", X0).attr("x2", X1)
  .attr("y1", function(p) { return p.y(p.ref); }).attr("y2", function(p) { return p.y(p.ref); })
  .attr("stroke", "#000").attr("stroke-width", 1).attr("stroke-dasharray", "1.4,2.2");

// ---------------- series ----------------
function drawSeries(data, yScale, color, width) {
  var gen = d3.line()
    .defined(function(d) { return d[1] !== null; })
    .x(function(d) { return x(d[0]); })
    .y(function(d) { return yScale(d[1]); });
  svg.append("path").datum(data).attr("d", gen)
    .attr("fill", "none").attr("stroke", color).attr("stroke-width", width)
    .attr("stroke-linejoin", "round");
}
drawSeries(ird980, yIrd, "#000", 1.3);
drawSeries(lithics, P.lith.y, C.red, 1.5);
drawSeries(kalifeldspar, P.kali.y, "#000", 1.2);
drawSeries(plagioclase, P.plag.y, "#000", 1.2);
drawSeries(quartz, P.qtz.y, "#000", 1.2);
drawSeries(dolomite, P.dol.y, "#000", 1.2);
drawSeries(u1313, P.d18.y, C.blue, 1);
drawSeries(globalStack, P.d18.y, C.red, 2.6);
drawSeries(magSus, P.mag.y, C.brown, 1.5);
drawSeries(terrRate, P.terr.y, C.terr, 1.5);

// ---------------- frame & axes ----------------
var frame = svg.append("g").attr("stroke", "#000");
frame.append("line").attr("x1", X0).attr("x2", X1).attr("y1", headerTop).attr("y2", headerTop).attr("stroke-width", 1.2);
frame.append("line").attr("x1", X0).attr("x2", X0).attr("y1", headerTop).attr("y2", bottomY).attr("stroke-width", 1.5);
frame.append("line").attr("x1", X1).attr("x2", X1).attr("y1", headerTop).attr("y2", bottomY).attr("stroke-width", 1.5);
frame.selectAll(".hl").data(d3.range(panels.length + 1)).enter().append("line")
  .attr("x1", X0 - 1).attr("x2", X1 + 1)
  .attr("y1", function(i) { return panelTop + i * rowH; }).attr("y2", function(i) { return panelTop + i * rowH; })
  .attr("stroke-width", 2.2);

// age ticks on each inner boundary (pointing down) and bottom axis
d3.range(1, panels.length + 1).forEach(function(i) {
  var yy = panelTop + i * rowH;
  frame.selectAll(".t" + i).data(ageTicks).enter().append("line")
    .attr("x1", function(d) { return x(d); }).attr("x2", function(d) { return x(d); })
    .attr("y1", yy).attr("y2", yy + (i === panels.length ? 7 : 6)).attr("stroke-width", 1.3);
});

// y ticks
panels.forEach(function(p) {
  var lo = Math.min(p.domain[0], p.domain[1]), hi = Math.max(p.domain[0], p.domain[1]);
  var ticks = d3.range(lo, hi + 1e-9, p.step);
  frame.selectAll(".yt-" + p.key).data(ticks).enter().append("line")
    .attr("x1", X0 - 8).attr("x2", X0)
    .attr("y1", function(d) { return p.y(d); }).attr("y2", function(d) { return p.y(d); })
    .attr("stroke-width", 1.2);
});

// rotated text helper
function vtext(parent, cx, cy, anchor, size, weight, color) {
  return parent.append("text")
    .attr("transform", "translate(" + cx + "," + cy + ") rotate(-90) scale(1," + glyphStretch + ")")
    .attr("text-anchor", anchor).attr("dy", "0.36em")
    .attr("font-size", size).attr("font-weight", weight || "normal")
    .attr("fill", color || "#000");
}

var labels = svg.append("g");
panels.forEach(function(p) {
  p.labels.forEach(function(v) {
    var s = v === 0 ? "0" : (p.dec ? v.toFixed(p.dec) : String(v));
    vtext(labels, tickLabX, p.y(v), "middle", 20).attr("letter-spacing", 0.5).text(s);
  });
});

// x labels
ageLabels.forEach(function(a) {
  vtext(labels, x(a), bottomY + 10, "end", 19.5).attr("letter-spacing", 1.5).text(a);
});

// right IRD axis
var irdTicks = [500, 1000, 1500, 2000];
frame.selectAll(".irdt").data(irdTicks).enter().append("line")
  .attr("x1", X1).attr("x2", X1 + 7)
  .attr("y1", function(d) { return yIrd(d); }).attr("y2", function(d) { return yIrd(d); })
  .attr("stroke-width", 1.2);
[500, 1500].forEach(function(v) { vtext(labels, 912, yIrd(v), "middle", 19).text(v); });

// ---------------- titles ----------------
function midY(p) { return (p.top + p.bot) / 2; }
var t;
t = vtext(labels, titleX, midY(P.lith), "middle", 22, "bold", C.red);
t.append("tspan").text("Lithics >315 ");
t.append("tspan").attr("font-style", "italic").text("μ");
t.append("tspan").text("m");
vtext(labels, subX, midY(P.lith) + 10, "middle", 18.5).text("(no/g)");

[["kali", "Kalifeldspar"], ["plag", "Plagioclase"], ["qtz", "Quartz"], ["dol", "Dolomite"]].forEach(function(k) {
  vtext(labels, titleX, midY(P[k[0]]), "middle", 22, "bold").text(k[1]);
  vtext(labels, subX, midY(P[k[0]]), "middle", 18.5).text("(rel. intensity)");
});

t = vtext(labels, titleX, midY(P.d18) - 8, "middle", 22, "bold", C.blue);
t.append("tspan").text("U1313 δ");
t.append("tspan").attr("dy", "-0.45em").attr("font-size", 15).text("18");
t.append("tspan").attr("dy", "0.45em").text("O");
t.append("tspan").attr("dy", "0.3em").attr("font-size", 15).text("b");
vtext(labels, subX, midY(P.d18) - 4, "middle", 18.5).text("(‰ VPDB)");

vtext(labels, titleX, midY(P.mag), "middle", 21.5, "bold").text("Magn. susceptibility");
vtext(labels, subX, midY(P.mag), "middle", 18.5).text("(10-6 SI)");
vtext(labels, titleX, midY(P.terr), "middle", 22, "bold").text("Terr. acc. Rate");
vtext(labels, subX, midY(P.terr), "middle", 18.5).text("(g*cm-2*kyr-1)");

vtext(labels, 32, 873, "middle", 25.5, "bold").attr("word-spacing", 5).text("IODP Site U1313");

t = vtext(labels, 929, 145, "middle", 20, "bold");
t.append("tspan").text("Site 980: IRD >150 ");
t.append("tspan").attr("font-style", "italic").text("μ");
t.append("tspan").text("m (no/g)");

t = vtext(labels, 907, 1146, "middle", 22.5, "bold", C.red);
t.append("tspan").text("Global δ");
t.append("tspan").attr("dy", "-0.45em").attr("font-size", 15).text("18");
t.append("tspan").attr("dy", "0.45em").text("O");
t.append("tspan").attr("dy", "0.3em").attr("font-size", 15).text("b");
t.append("tspan").attr("dy", "-0.3em").text(" stack");

// header labels
misLabels.forEach(function(m) { vtext(labels, x(m[1]), 13, "end", 20.5).text(m[0]); });
termLabels.forEach(function(m) { vtext(labels, x(m[1]), 58, "start", 19, "bold").text(m[0]); });

// termination triangles
svg.append("g").selectAll("path").data(termMarks).enter().append("path")
  .attr("d", function(a) {
    var cx = x(a);
    return "M" + (cx - 15) + "," + (panelTop - 15) + "L" + (cx + 15) + "," + (panelTop - 15) + "L" + cx + "," + (panelTop + 3) + "Z";
  }).attr("fill", "#000");

// question marks
questionMarks.forEach(function(q) { vtext(labels, x(q[0]), P.lith.y(q[1]), "middle", 16).text("?"); });

// isotope stage labels
isoLabels.forEach(function(l) { vtext(labels, x(l[1]), P.d18.y(l[2]), "middle", 15, "bold").text(l[0]); });

// diamonds on quartz baseline
svg.append("g").selectAll("path").data(diamonds).enter().append("path")
  .attr("d", function(a) {
    var cx = x(a), cy = P.qtz.y(0), r = 10;
    return "M" + cx + "," + (cy - r) + "L" + (cx + r) + "," + cy + "L" + cx + "," + (cy + r) + "L" + (cx - r) + "," + cy + "Z";
  }).attr("fill", C.diamond).attr("stroke", "#000").attr("stroke-width", 1);

// dolomite arrows
svg.append("g").selectAll("path").data(dolArrows).enter().append("path")
  .attr("d", function(d) {
    var cx = x(d[0]), tip = P.dol.y(d[1]);
    var hw = d[2] ? 12 : 6, hh = d[2] ? 24 : 17, sw = d[2] ? 2.2 : 0.8, sl = d[2] ? 16 : 11;
    var hb = tip - hh;
    return "M" + cx + "," + tip + "L" + (cx - hw) + "," + hb + "L" + (cx - sw) + "," + hb +
      "L" + (cx - sw) + "," + (hb - sl) + "L" + (cx + sw) + "," + (hb - sl) + "L" + (cx + sw) + "," + hb +
      "L" + (cx + hw) + "," + hb + "Z";
  }).attr("fill", "#000");

// volcanic glass annotation
var gy = P.mag.y;
svg.append("g").selectAll("line").data(glassBars).enter().append("line")
  .attr("x1", function(a) { return x(a); }).attr("x2", function(a) { return x(a); })
  .attr("y1", gy(glassRange[0])).attr("y2", gy(glassRange[1]))
  .attr("stroke", "#000").attr("stroke-width", 2);
var ax0 = x(glassBars[0]) + 1, ax1 = x(glassBars[1]) - 1, ay = gy(glassArrowLevel);
svg.append("line").attr("x1", ax0 + 18).attr("x2", ax1 - 18).attr("y1", ay).attr("y2", ay)
  .attr("stroke", C.red).attr("stroke-width", 1.5);
svg.append("path").attr("d",
  "M" + ax0 + "," + ay + "L" + (ax0 + 21) + "," + (ay - 10) + "L" + (ax0 + 21) + "," + (ay + 10) + "Z" +
  "M" + ax1 + "," + ay + "L" + (ax1 - 21) + "," + (ay - 10) + "L" + (ax1 - 21) + "," + (ay + 10) + "Z")
  .attr("fill", C.red);
vtext(labels, x(570), gy(27.3), "start", 18.5).text("571 ka");
vtext(labels, x(608.4), gy(27.3), "start", 18.5).text("610 ka");
vtext(labels, x(585.4), gy(24.6), "start", 19.5, "normal", C.red).text("volcanic");
vtext(labels, x(596.5), gy(27.3), "start", 19.5, "normal", C.red).text("glass");

// Age (ka) label, upside down on black
var ag = svg.append("g").attr("transform", "translate(532,1699) rotate(180)");
var ageParts = [["Age", "bold", 0, 40], ["(ka)", "normal", 42, 45]];
ageParts.forEach(function(pt) {
  ag.append("rect").attr("x", pt[2]).attr("y", -16).attr("width", pt[3]).attr("height", 22).attr("fill", "#000");
  ag.append("text").attr("x", pt[2] + pt[3] / 2).attr("y", 0).attr("text-anchor", "middle")
    .attr("font-size", 18).attr("font-weight", pt[1]).attr("fill", "#fff").text(pt[0]);
});
</script>
</body>
</html>
